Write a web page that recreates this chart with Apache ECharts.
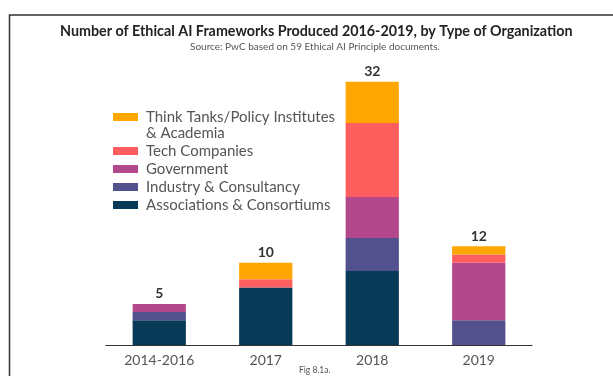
<!DOCTYPE html>
<html>
<head>
<meta charset="utf-8">
<script src="https://cdn.jsdelivr.net/npm/echarts@6/dist/echarts.min.js"></script>
<style>
  html, body { margin: 0; padding: 0; background: #fff; }
  #main { width: 613px; height: 376px; }
</style>
</head>
<body>
<div id="main"></div>
<script>
// categories and stacked values, bottom to top
const categories = ["2014-2016", "2017", "2018", "2019"];
const associations = [3, 7, 9, 0];
const industry = [1, 0, 4, 3];
const government = [1, 0, 5, 7];
const techCompanies = [0, 1, 9, 1];
const thinkTanks = [0, 2, 5, 1];

const thinkName = "Think Tanks/Policy Institutes\n& Academia";

const totals = categories.map(function (_, i) {
  return associations[i] + industry[i] + government[i] + techCompanies[i] + thinkTanks[i];
});

const font = "Lato, 'Open Sans', sans-serif";

var chartDom = document.getElementById("main");
var myChart = echarts.init(chartDom);

function seg(name, data, color) {
  return {
    name: name,
    type: "bar",
    stack: "all",
    barWidth: "50%",
    data: data,
    itemStyle: { color: color },
    emphasis: { disabled: true },
  };
}

var option = {
  backgroundColor: "#fff",
  animation: false,
  title: [
    {
      text: "Number of Ethical AI Frameworks Produced 2016-2019, by Type of Organization",
      left: 60,
      top: 24,
      padding: 0,
      textStyle: { fontFamily: font, fontSize: 14.3, fontWeight: "bold", color: "#222" },
    },
    {
      text: "Source: PwC based on 59 Ethical AI Principle documents.",
      left: 190,
      top: 42,
      padding: 0,
      textStyle: { fontFamily: font, fontSize: 10, fontWeight: "normal", color: "#555" },
    },
  ],
  legend: {
    orient: "vertical",
    left: 113,
    top: 93,
    padding: 0,
    itemWidth: 25,
    itemHeight: 8,
    itemGap: 2,
    icon: "rect",
    selectedMode: false,
    // blank first line keeps the icon level with the first line of a two-line name
    formatter: function (name) {
      return name.indexOf("\n") >= 0 ? "\n" + name : name;
    },
    textStyle: {
      fontFamily: font,
      fontSize: 15,
      lineHeight: 16,
      color: "#555",
      padding: [0, 0, 0, 3],
    },
    data: [
      thinkName,
      "Tech Companies",
      "Government",
      "Industry & Consultancy",
      "Associations & Consortiums",
    ],
  },
  grid: { left: 106, right: 81, top: 16, bottom: 31 },
  xAxis: {
    type: "category",
    data: categories,
    axisTick: { show: false },
    axisLine: { lineStyle: { color: "#333", width: 1.2 } },
    axisLabel: { fontFamily: font, fontSize: 14, color: "#555", margin: 8 },
  },
  yAxis: {
    type: "value",
    min: 0,
    max: 40,
    show: false,
  },
  series: [
    seg("Associations & Consortiums", associations, "#073a56"),
    seg("Industry & Consultancy", industry, "#53508e"),
    seg("Government", government, "#b4488d"),
    seg("Tech Companies", techCompanies, "#fe5f5e"),
    seg(thinkName, thinkTanks, "#ffa600"),
    {
      name: "Total",
      type: "bar",
      stack: "all",
      barWidth: "50%",
      data: categories.map(function () { return 0; }),
      itemStyle: { color: "transparent" },
      label: {
        show: true,
        position: "top",
        distance: 3,
        fontFamily: font,
        fontSize: 14,
        fontWeight: "bold",
        color: "#333",
        formatter: function (p) { return totals[p.dataIndex]; },
      },
    },
  ],
  graphic: [
    {
      type: "polyline",
      shape: { points: [[9.5, 376], [9.5, 15], [613, 15]] },
      style: { stroke: "#333", lineWidth: 1.5, fill: null },
      silent: true,
    },
    {
      type: "text",
      left: 299,
      top: 366,
      style: { text: "Fig 8.1a.", font: "8.5px " + font, fill: "#555" },
      silent: true,
    },
  ],
};

option && myChart.setOption(option);
</script>
</body>
</html>
